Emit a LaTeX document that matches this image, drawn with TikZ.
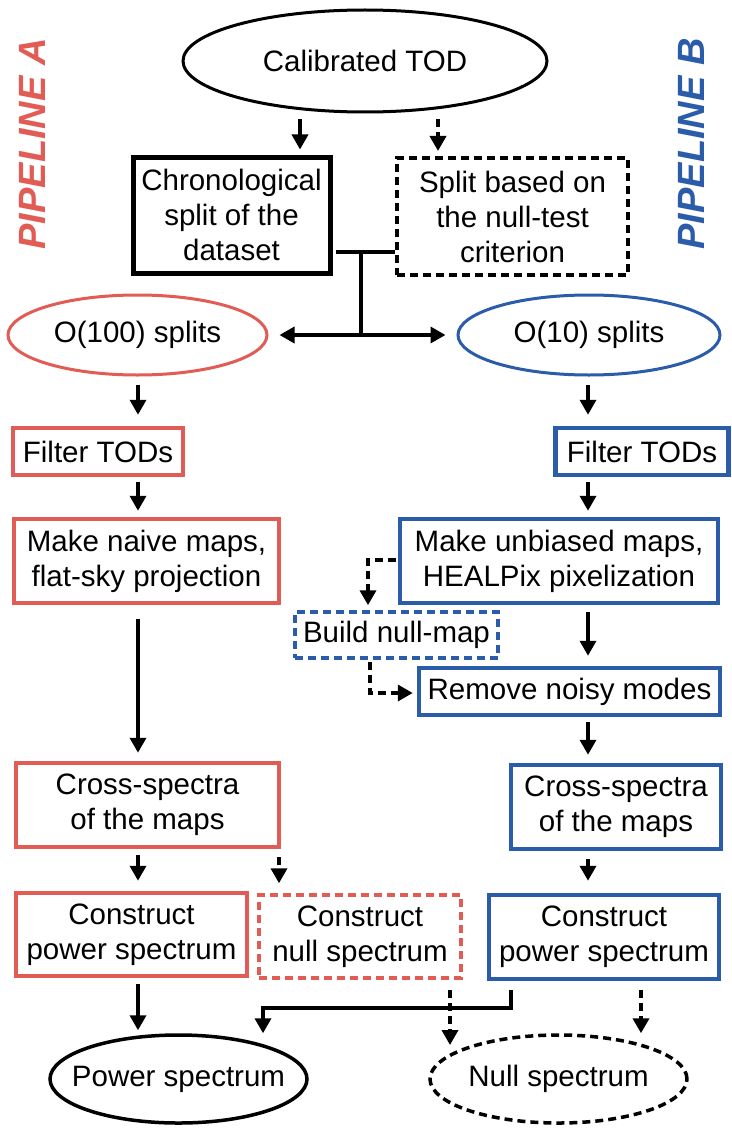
\documentclass[tikz,border=0pt]{standalone}
\usepackage{fontspec}
\setmainfont{Liberation Sans}
\usetikzlibrary{arrows.meta,shapes.geometric,calc}
\definecolor{pred}{RGB}{226,92,86}
\definecolor{pblue}{RGB}{43,92,170}
\begin{document}
\begin{tikzpicture}[x=1pt,y=-1pt,
  every node/.style={font=\fontsize{29.5}{35}\selectfont, align=center, inner sep=0pt, text=black},
  rbox/.style={draw=pred, line width=4.5pt, rectangle},
  bbox/.style={draw=pblue, line width=4.5pt, rectangle},
  kbox/.style={draw=black, line width=5pt, rectangle},
  ell/.style={ellipse, line width=3pt},
  dsh/.style={dash pattern=on 8pt off 5pt},
  arr/.style={line width=3.5pt, -{Triangle[length=15pt,width=16pt]}},
  darr/.style={arr, dsh},
  conn/.style={line width=3.5pt},
  pipe/.style={rotate=90, font=\fontsize{38}{40}\selectfont\bfseries\itshape},
]
\useasboundingbox (0,0) rectangle (731,1129);
\fill[white] (0,0) rectangle (731,1129);

% side labels
\node[pipe, text=pred] (pa) at (32,144) {PIPELINE A};
\node[pipe, text=pblue] (pb) at (691,144) {PIPELINE B};

% top
\node[ell, draw=black, minimum width=364pt, minimum height=102pt] (cal) at (365,61) {\makebox[0pt]{Calibrated TOD}};
\node[kbox, minimum width=197pt, minimum height=116pt] (chrono) at (231.5,215) {Chronological\\split of the\\dataset};
\node[draw=black, line width=4pt, dsh, minimum width=231pt, minimum height=117pt] (split) at (512.5,216.5) {Split based on\\the null-test\\criterion};

\node[ell, draw=pred, minimum width=259pt, minimum height=80pt] (o100) at (137.5,335) {\makebox[0pt]{O(100) splits}};
\node[ell, draw=pblue, minimum width=262pt, minimum height=80pt] (o10) at (589,335) {\makebox[0pt]{O(10) splits}};

% pipeline A
\node[rbox, minimum width=170pt, minimum height=47pt] (filtA) at (98,451.5) {Filter TODs};
\node[rbox, minimum width=265pt, minimum height=84pt] (naive) at (146.5,561) {Make naive maps,\\flat-sky projection};
\node[rbox, minimum width=263pt, minimum height=84pt] (crossA) at (147.5,805) {Cross-spectra\\of the maps};
\node[rbox, minimum width=231pt, minimum height=83pt] (cpA) at (131.5,934.5) {Construct\\power spectrum};
\node[draw=pred, line width=3.5pt, dsh, minimum width=202pt, minimum height=83pt] (cnull) at (360,936.5) {Construct\\null spectrum};

% pipeline B
\node[bbox, minimum width=173pt, minimum height=47pt] (filtB) at (642,451.5) {Filter TODs};
\node[bbox, minimum width=318pt, minimum height=84pt] (unb) at (559,561) {Make unbiased maps,\\HEALPix pixelization};
\node[draw=pblue, line width=3.5pt, dsh, minimum width=203pt, minimum height=46pt] (bnull) at (396.5,635) {Build null-map};
\node[bbox, minimum width=301pt, minimum height=47pt] (remove) at (569.5,691.5) {Remove noisy modes};
\node[bbox, minimum width=210pt, minimum height=84pt] (crossB) at (616,807) {Cross-spectra\\of the maps};
\node[bbox, minimum width=230pt, minimum height=84pt] (cpB) at (604,937) {Construct\\power spectrum};

% outputs
\node[ell, draw=black, line width=3.5pt, minimum width=257pt, minimum height=88pt] (power) at (178.5,1079) {\makebox[0pt]{Power spectrum}};
\node[ell, draw=black, line width=3.5pt, dsh, minimum width=257pt, minimum height=88pt] (nullsp) at (558.5,1079) {\makebox[0pt]{Null spectrum}};

% column coordinates
\coordinate (cA) at (138,0);
\coordinate (cB) at (588,0);
\coordinate (c300) at (300,0);
\coordinate (c438) at (438,0);
\coordinate (c279) at (279,0);
\coordinate (c511) at (511,0);
\coordinate (c450) at (450,0);
\coordinate (c641) at (641,0);
\coordinate (jt) at (361,252);
\coordinate (bend) at (263,1008);
\coordinate (tN) at (450,1045);
\coordinate (d1) at (368,560);
\coordinate (d2) at (370,693);

% top connectors
\draw[arr, shorten <=6pt, shorten >=5pt] (cal.south -| c300) -- (chrono.north -| c300);
\draw[darr, shorten <=6pt, shorten >=5pt] (cal.south -| c438) -- (split.north -| c438);
\draw[conn, shorten <=3pt] (chrono.east |- jt) -- (split.west |- jt);
\draw[conn] (jt) -- (jt |- o100.east);
\draw[arr, shorten >=11pt] (jt |- o100.east) -- (o100.east);
\draw[arr, shorten >=11pt] (jt |- o10.west) -- (o10.west);

% pipeline A connectors
\draw[arr, shorten <=8pt, shorten >=11pt] (o100.south -| cA) -- (filtA.north -| cA);
\draw[arr, shorten <=5pt, shorten >=6pt] (filtA.south -| cA) -- (naive.north -| cA);
\draw[arr, shorten <=14pt, shorten >=8pt] (naive.south -| cA) -- (crossA.north -| cA);
\draw[arr, shorten <=6pt, shorten >=10pt] (crossA.south -| cA) -- (cpA.north -| cA);
\draw[darr, shorten <=8pt, shorten >=10pt] (crossA.south -| c279) -- (cnull.north -| c279);
\draw[arr, shorten <=6pt, shorten >=3pt] (cpA.south -| cA) -- (power.north -| cA);

% pipeline B connectors
\draw[arr, shorten <=8pt, shorten >=11pt] (o10.south -| cB) -- (filtB.north -| cB);
\draw[arr, shorten <=5pt, shorten >=6pt] (filtB.south -| cB) -- (unb.north -| cB);
\draw[arr, shorten <=7pt, shorten >=10pt] (unb.south -| cB) -- (remove.north -| cB);
\draw[arr, shorten <=5pt, shorten >=8pt] (remove.south -| cB) -- (crossB.north -| cB);
\draw[arr, shorten <=8pt, shorten >=12pt] (crossB.south -| cB) -- (cpB.north -| cB);
\draw[darr, shorten <=2pt, shorten >=5pt] (unb.west |- d1) -- (d1) -- (d1 |- bnull.north);
\draw[darr, shorten <=2pt, shorten >=4pt] (bnull.south -| d2) -- (d2) -- (remove.west |- d2);

% outputs connectors
\draw[arr, shorten <=9pt] (cpB.south -| c511) -- (c511 |- bend) -- (bend) -- (bend |- power.north);
\draw[darr, shorten <=10pt] (cnull.south -| c450) -- (tN);
\draw[darr, line width=4.5pt, shorten <=9pt] (cpB.south -| c641) -- (nullsp.north -| c641);
\end{tikzpicture}
\end{document}
